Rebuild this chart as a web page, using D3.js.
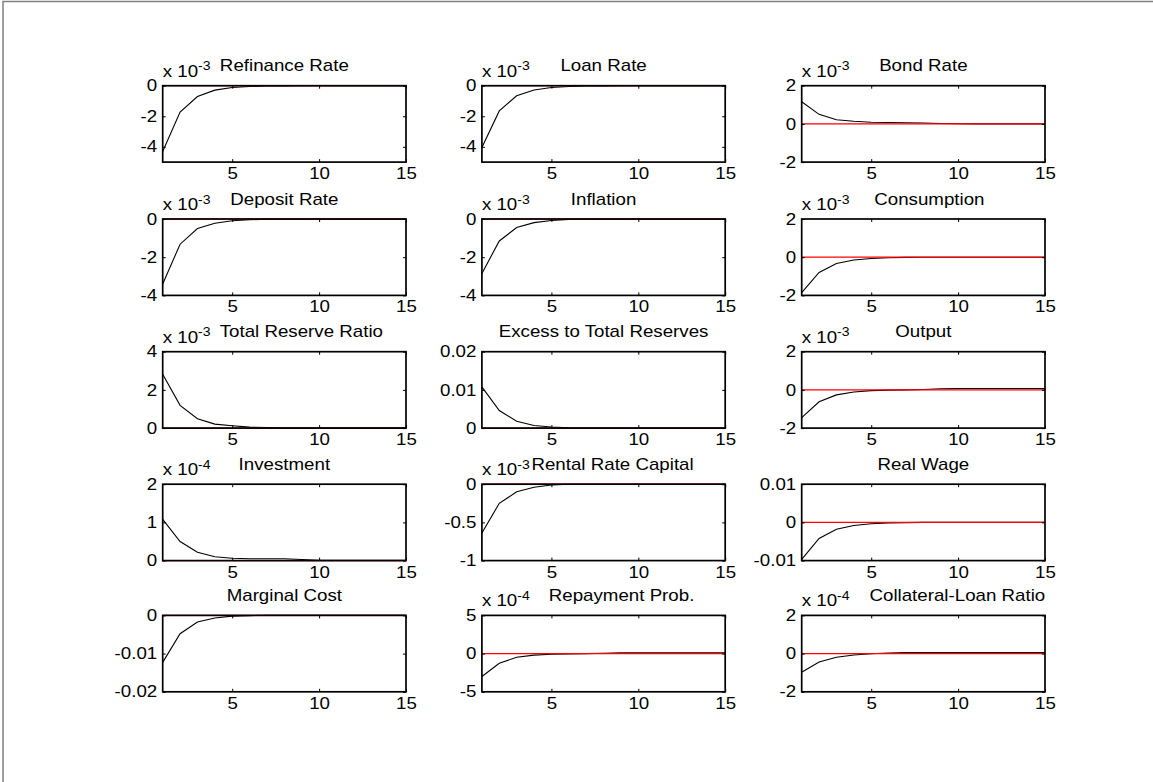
<!DOCTYPE html>
<html><head><meta charset="utf-8">
<script src="https://cdn.jsdelivr.net/npm/d3@7"></script>
<style>
body{margin:0;background:#fff}
svg text{font-family:"Liberation Sans",Arial,Helvetica,sans-serif;fill:#000}
</style>
</head><body>
<svg id="chart" width="1153" height="782"></svg>
<script>
// ---------------- DATA ----------------
const periods = [1,2,3,4,5,6,7,8,9,10,11,12,13,14,15];
const xTickValues = [5,10,15];

const titles = [
  "Refinance Rate","Loan Rate","Bond Rate",
  "Deposit Rate","Inflation","Consumption",
  "Total Reserve Ratio","Excess to Total Reserves","Output",
  "Investment","Rental Rate Capital","Real Wage",
  "Marginal Cost","Repayment Prob.","Collateral-Loan Ratio"
];
// exponent of the "x 10^n" multiplier shown above each panel (null = none)
const exponents = [-3,-3,-3, -3,-3,-3, -3,null,-3, -4,-3,null, null,-4,-4];

const yDomains = [
  [-5,0],[-5,0],[-2,2],
  [-4,0],[-4,0],[-2,2],
  [0,4],[0,0.02],[-2,2],
  [0,2],[-1,0],[-0.01,0.01],
  [-0.02,0],[-5,5],[-2,2]
];
const yTickValues = [
  [-4,-2,0],[-4,-2,0],[-2,0,2],
  [-4,-2,0],[-4,-2,0],[-2,0,2],
  [0,2,4],[0,0.01,0.02],[-2,0,2],
  [0,1,2],[-1,-0.5,0],[-0.01,0,0.01],
  [-0.02,-0.01,0],[-5,0,5],[-2,0,2]
];

// impulse responses (in the units shown on each panel's axis)
const refinanceRate = [-4.3,-1.73,-0.71,-0.29,-0.12,-0.05,-0.02,-0.01,0,0,0,0,0,0,0];
const loanRate      = [-4.05,-1.65,-0.66,-0.28,-0.12,-0.05,-0.02,-0.01,0,0,0,0,0,0,0];
const bondRate      = [1.16,0.5,0.22,0.14,0.09,0.07,0.06,0.05,0.02,0.01,0,0,0,0,0];
const depositRate   = [-3.4,-1.32,-0.5,-0.22,-0.09,-0.04,-0.01,0,0,0,0,0,0,0,0];
const inflation     = [-2.85,-1.15,-0.45,-0.19,-0.08,-0.03,-0.01,0,0,0,0,0,0,0,0];
const consumption   = [-1.85,-0.8,-0.33,-0.15,-0.07,-0.03,-0.01,0,0,0,0,0,0,0,0];
const totalReserveRatio = [2.82,1.19,0.49,0.21,0.12,0.05,0.03,0.02,0.02,0.01,0.01,0.01,0.01,0.01,0.01];
const excessToTotalReserves = [0.0108,0.0046,0.0018,0.0007,0.00027,0.0001,0.00004,0.00002,0,0,0,0,0,0,0];
const output        = [-1.45,-0.62,-0.26,-0.11,-0.04,-0.01,0,0.02,0.06,0.07,0.07,0.07,0.07,0.07,0.07];
const investment    = [1.08,0.5,0.22,0.1,0.06,0.05,0.05,0.05,0.03,0.01,0.01,0.01,0.01,0.01,0.01];
const rentalRateCapital = [-0.64,-0.25,-0.1,-0.04,-0.01,0,0,0,0,0,0,0,0,0,0];
const realWage      = [-0.0097,-0.0042,-0.0018,-0.0008,-0.00035,-0.00015,-0.00005,0,0,0,0,0,0,0,0];
const marginalCost  = [-0.0123,-0.0048,-0.00175,-0.0007,-0.0002,-0.00005,0,0,0,0,0,0,0,0,0];
const repaymentProb = [-3.0,-1.27,-0.48,-0.2,-0.08,-0.03,0,0.05,0.1,0.12,0.12,0.12,0.12,0.12,0.12];
const collateralLoanRatio = [-0.98,-0.44,-0.19,-0.07,-0.01,0.03,0.05,0.05,0.05,0.05,0.05,0.05,0.05,0.05,0.05];

const seriesValues = [
  refinanceRate, loanRate, bondRate,
  depositRate, inflation, consumption,
  totalReserveRatio, excessToTotalReserves, output,
  investment, rentalRateCapital, realWage,
  marginalCost, repaymentProb, collateralLoanRatio
];

// ---------------- LAYOUT ----------------
const colLeft = [162.7, 481.9, 801.7];
const rowTop = [85.7, 219.0, 351.7, 484.2, 615.4];
const panelW = 243.3, panelH = 76.4;
const titleShift = [0,0,0, 0,0,6, 17,0,0, 0,9,0, 0,18,34];
const SX = 1.17;      // horizontal text stretch of the original figure
const FS = 16;

const svg = d3.select("#chart");

// outer frame
svg.append("path")
  .attr("d","M3,782 L3,1.5 L1153,1.5")
  .attr("fill","none").attr("stroke","#808080").attr("stroke-width",1.5);

function stretchedText(g, x, y, anchor) {
  return g.append("text")
    .attr("transform", `translate(${x},${y}) scale(${SX},1)`)
    .attr("text-anchor", anchor)
    .style("font-size", FS + "px");
}

titles.forEach((title, i) => {
  const r = Math.floor(i / 3), c = i % 3;
  const left = colLeft[c], top = rowTop[r];
  const g = svg.append("g").attr("transform", `translate(${left},${top})`);

  const x = d3.scaleLinear().domain([1,15]).range([0, panelW]);
  const y = d3.scaleLinear().domain(yDomains[i]).range([panelH, 0]);

  // data line
  const line = d3.line().x((d, k) => x(periods[k])).y(d => y(d));
  g.append("path").datum(seriesValues[i])
    .attr("d", line).attr("fill","none")
    .attr("stroke","#000").attr("stroke-width",1.1);

  // zero line
  g.append("path").datum(periods.map(() => 0))
    .attr("d", line).attr("fill","none")
    .attr("stroke","#ff0000").attr("stroke-width",1.2);

  // axes (ticks inward, MATLAB style)
  const fmt = v => String(v);
  const gb = g.append("g").attr("transform",`translate(0,${panelH})`)
    .call(d3.axisBottom(x).tickValues(xTickValues).tickSizeInner(-3).tickSizeOuter(0).tickPadding(5.6).tickFormat(fmt));
  const gt = g.append("g")
    .call(d3.axisTop(x).tickValues(xTickValues).tickSizeInner(-3).tickSizeOuter(0).tickFormat(""));
  const gl = g.append("g")
    .call(d3.axisLeft(y).tickValues(yTickValues[i]).tickSizeInner(-3).tickSizeOuter(0).tickPadding(4.7).tickFormat(fmt));
  const gr = g.append("g").attr("transform",`translate(${panelW},0)`)
    .call(d3.axisRight(y).tickValues(yTickValues[i]).tickSizeInner(-3).tickSizeOuter(0).tickFormat(""));

  [gb, gt, gl, gr].forEach(a => {
    a.select(".domain").remove();
    a.selectAll(".tick line").attr("stroke","#000").attr("stroke-width",1);
    a.selectAll(".tick text")
      .attr("transform", `scale(${SX},1)`)
      .style("font-size", FS + "px")
      .style("font-family", '"Liberation Sans",Arial,sans-serif')
      .attr("fill","#000");
  });

  // box
  g.append("rect").attr("x",0).attr("y",0).attr("width",panelW).attr("height",panelH)
    .attr("fill","none").attr("stroke","#000").attr("stroke-width",1.7);

  // exponent label
  if (exponents[i] !== null) {
    const t = stretchedText(g, 0, -9, "start");
    t.append("tspan").text("x 10");
    t.append("tspan").attr("dy",-6.5).style("font-size","12px").text(String(exponents[i]));
  }

  // title
  stretchedText(g, panelW / 2 + titleShift[i], -14.5, "middle").text(title);
});
</script>
</body></html>
